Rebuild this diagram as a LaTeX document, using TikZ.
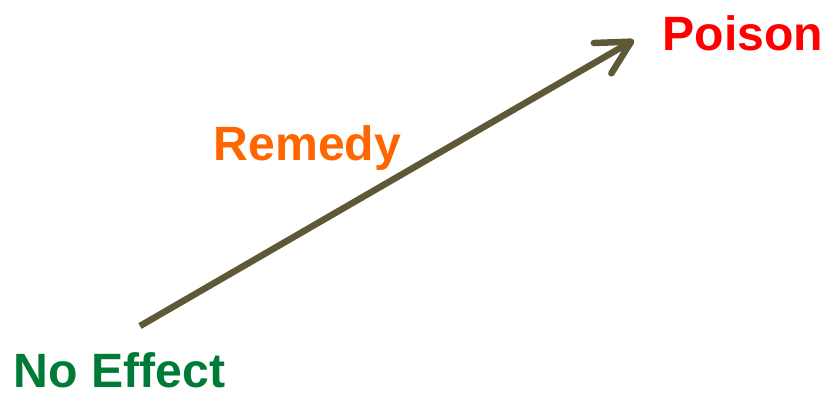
\documentclass[tikz,border=0pt]{standalone}
\usepackage{fontspec}
\setmainfont{Liberation Sans}
\usetikzlibrary{arrows.meta}
\definecolor{arrowolive}{HTML}{5E5836}
\definecolor{poisonred}{HTML}{FF0000}
\definecolor{remedyorange}{HTML}{FF6600}
\definecolor{effectgreen}{HTML}{007A37}
\begin{document}
\begin{tikzpicture}[x=0.01cm,y=-0.01cm,
  lbl/.style={font=\fontsize{13.7}{16}\selectfont\bfseries,inner sep=0pt,anchor=base west}]
\useasboundingbox (0,0) rectangle (827,394);
\node[lbl,text=poisonred] (poison) at (662,51) {Poison};
\node[lbl,text=remedyorange] (remedy) at (213,160) {Remedy};
\node[lbl,text=effectgreen] (noeffect) at (13,387) {No Effect};
\coordinate (tail) at (140,326);
\coordinate (tip) at (634,40);
\draw[arrowolive,line width=0.065cm,-{Straight Barb[round,length=0.33cm,width=0.35cm]}] (tail) -- (tip);
\end{tikzpicture}
\end{document}
